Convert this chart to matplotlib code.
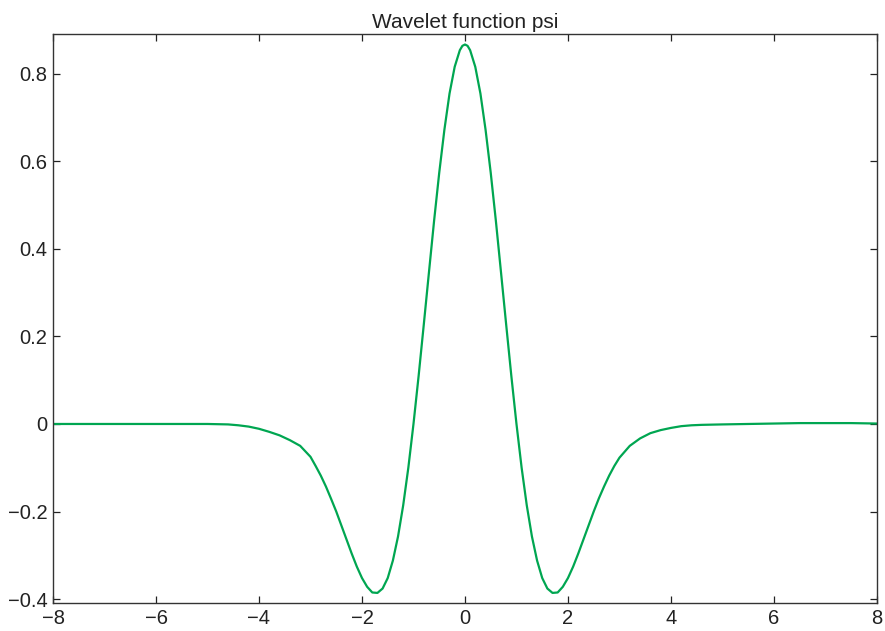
import numpy as np
import matplotlib
matplotlib.use("Agg")
import matplotlib.pyplot as plt

plt.rcParams['font.family'] = ['Liberation Sans', 'DejaVu Sans']

## values
x_vals = [-8.0, -7.0, -6.0, -5.0, -4.6, -4.4, -4.2, -4.0, -3.8, -3.6, -3.4, -3.2, -3.0,
          -2.9, -2.8, -2.7, -2.6, -2.5, -2.4, -2.3, -2.2, -2.1, -2.0,
          -1.9, -1.8, -1.7, -1.6, -1.5, -1.4, -1.3, -1.2, -1.1, -1.0,
          -0.9, -0.8, -0.7, -0.6, -0.5, -0.4, -0.3, -0.2, -0.1, -0.05, 0.0,
          0.05, 0.1, 0.2, 0.3, 0.4, 0.5, 0.6, 0.7, 0.8, 0.9, 1.0,
          1.1, 1.2, 1.3, 1.4, 1.5, 1.6, 1.7, 1.8, 1.9, 2.0,
          2.1, 2.2, 2.3, 2.4, 2.5, 2.6, 2.7, 2.8, 2.9, 3.0,
          3.2, 3.4, 3.6, 3.8, 4.0, 4.2, 4.4, 4.6, 5.0,
          5.5, 6.0, 6.5, 7.0, 7.5, 8.0]
psi_vals = [0.000, 0.000, 0.000, 0.000, -0.001, -0.003, -0.006, -0.011, -0.018, -0.026, -0.037, -0.050, -0.075,
            -0.096, -0.118, -0.143, -0.171, -0.200, -0.232, -0.264, -0.296, -0.326, -0.352,
            -0.372, -0.385, -0.386, -0.376, -0.352, -0.312, -0.257, -0.186, -0.100, 0.000,
            0.110, 0.227, 0.346, 0.464, 0.574, 0.672, 0.755, 0.816, 0.854, 0.864, 0.867,
            0.864, 0.854, 0.816, 0.755, 0.672, 0.574, 0.464, 0.346, 0.227, 0.110, 0.000,
            -0.100, -0.186, -0.257, -0.312, -0.352, -0.376, -0.386, -0.385, -0.372, -0.352,
            -0.326, -0.296, -0.264, -0.232, -0.200, -0.170, -0.143, -0.118, -0.096, -0.077,
            -0.050, -0.033, -0.021, -0.014, -0.009, -0.005, -0.003, -0.002, -0.001,
            0.000, 0.001, 0.002, 0.002, 0.002, 0.001]

x_ticks = [-8, -6, -4, -2, 0, 2, 4, 6, 8]
y_ticks = [-0.4, -0.2, 0.0, 0.2, 0.4, 0.6, 0.8]
y_labels = ['\u22120.4', '\u22120.2', '0', '0.2', '0.4', '0.6', '0.8']

fig = plt.figure(figsize=(8.85, 6.31), dpi=100)
ax = fig.add_axes([0.0599, 0.0444, 0.931, 0.9017])

ax.plot(x_vals, psi_vals, color='#00a651', linewidth=1.6,
        solid_joinstyle='round')

ax.set_xlim(-8, 8)
ax.set_ylim(-0.409, 0.891)
ax.set_xticks(x_ticks)
ax.set_yticks(y_ticks)
ax.set_yticklabels(y_labels)
ax.tick_params(direction='in', length=5, width=0.9, top=True, right=True,
               labelsize=14.5, colors='#222222', pad=4)
for s in ax.spines.values():
    s.set_color('#333333')
    s.set_linewidth(1.0)

ax.set_title('Wavelet function psi', fontsize=15, pad=4, color='#222222')

fig.savefig('out.png', dpi=100)
